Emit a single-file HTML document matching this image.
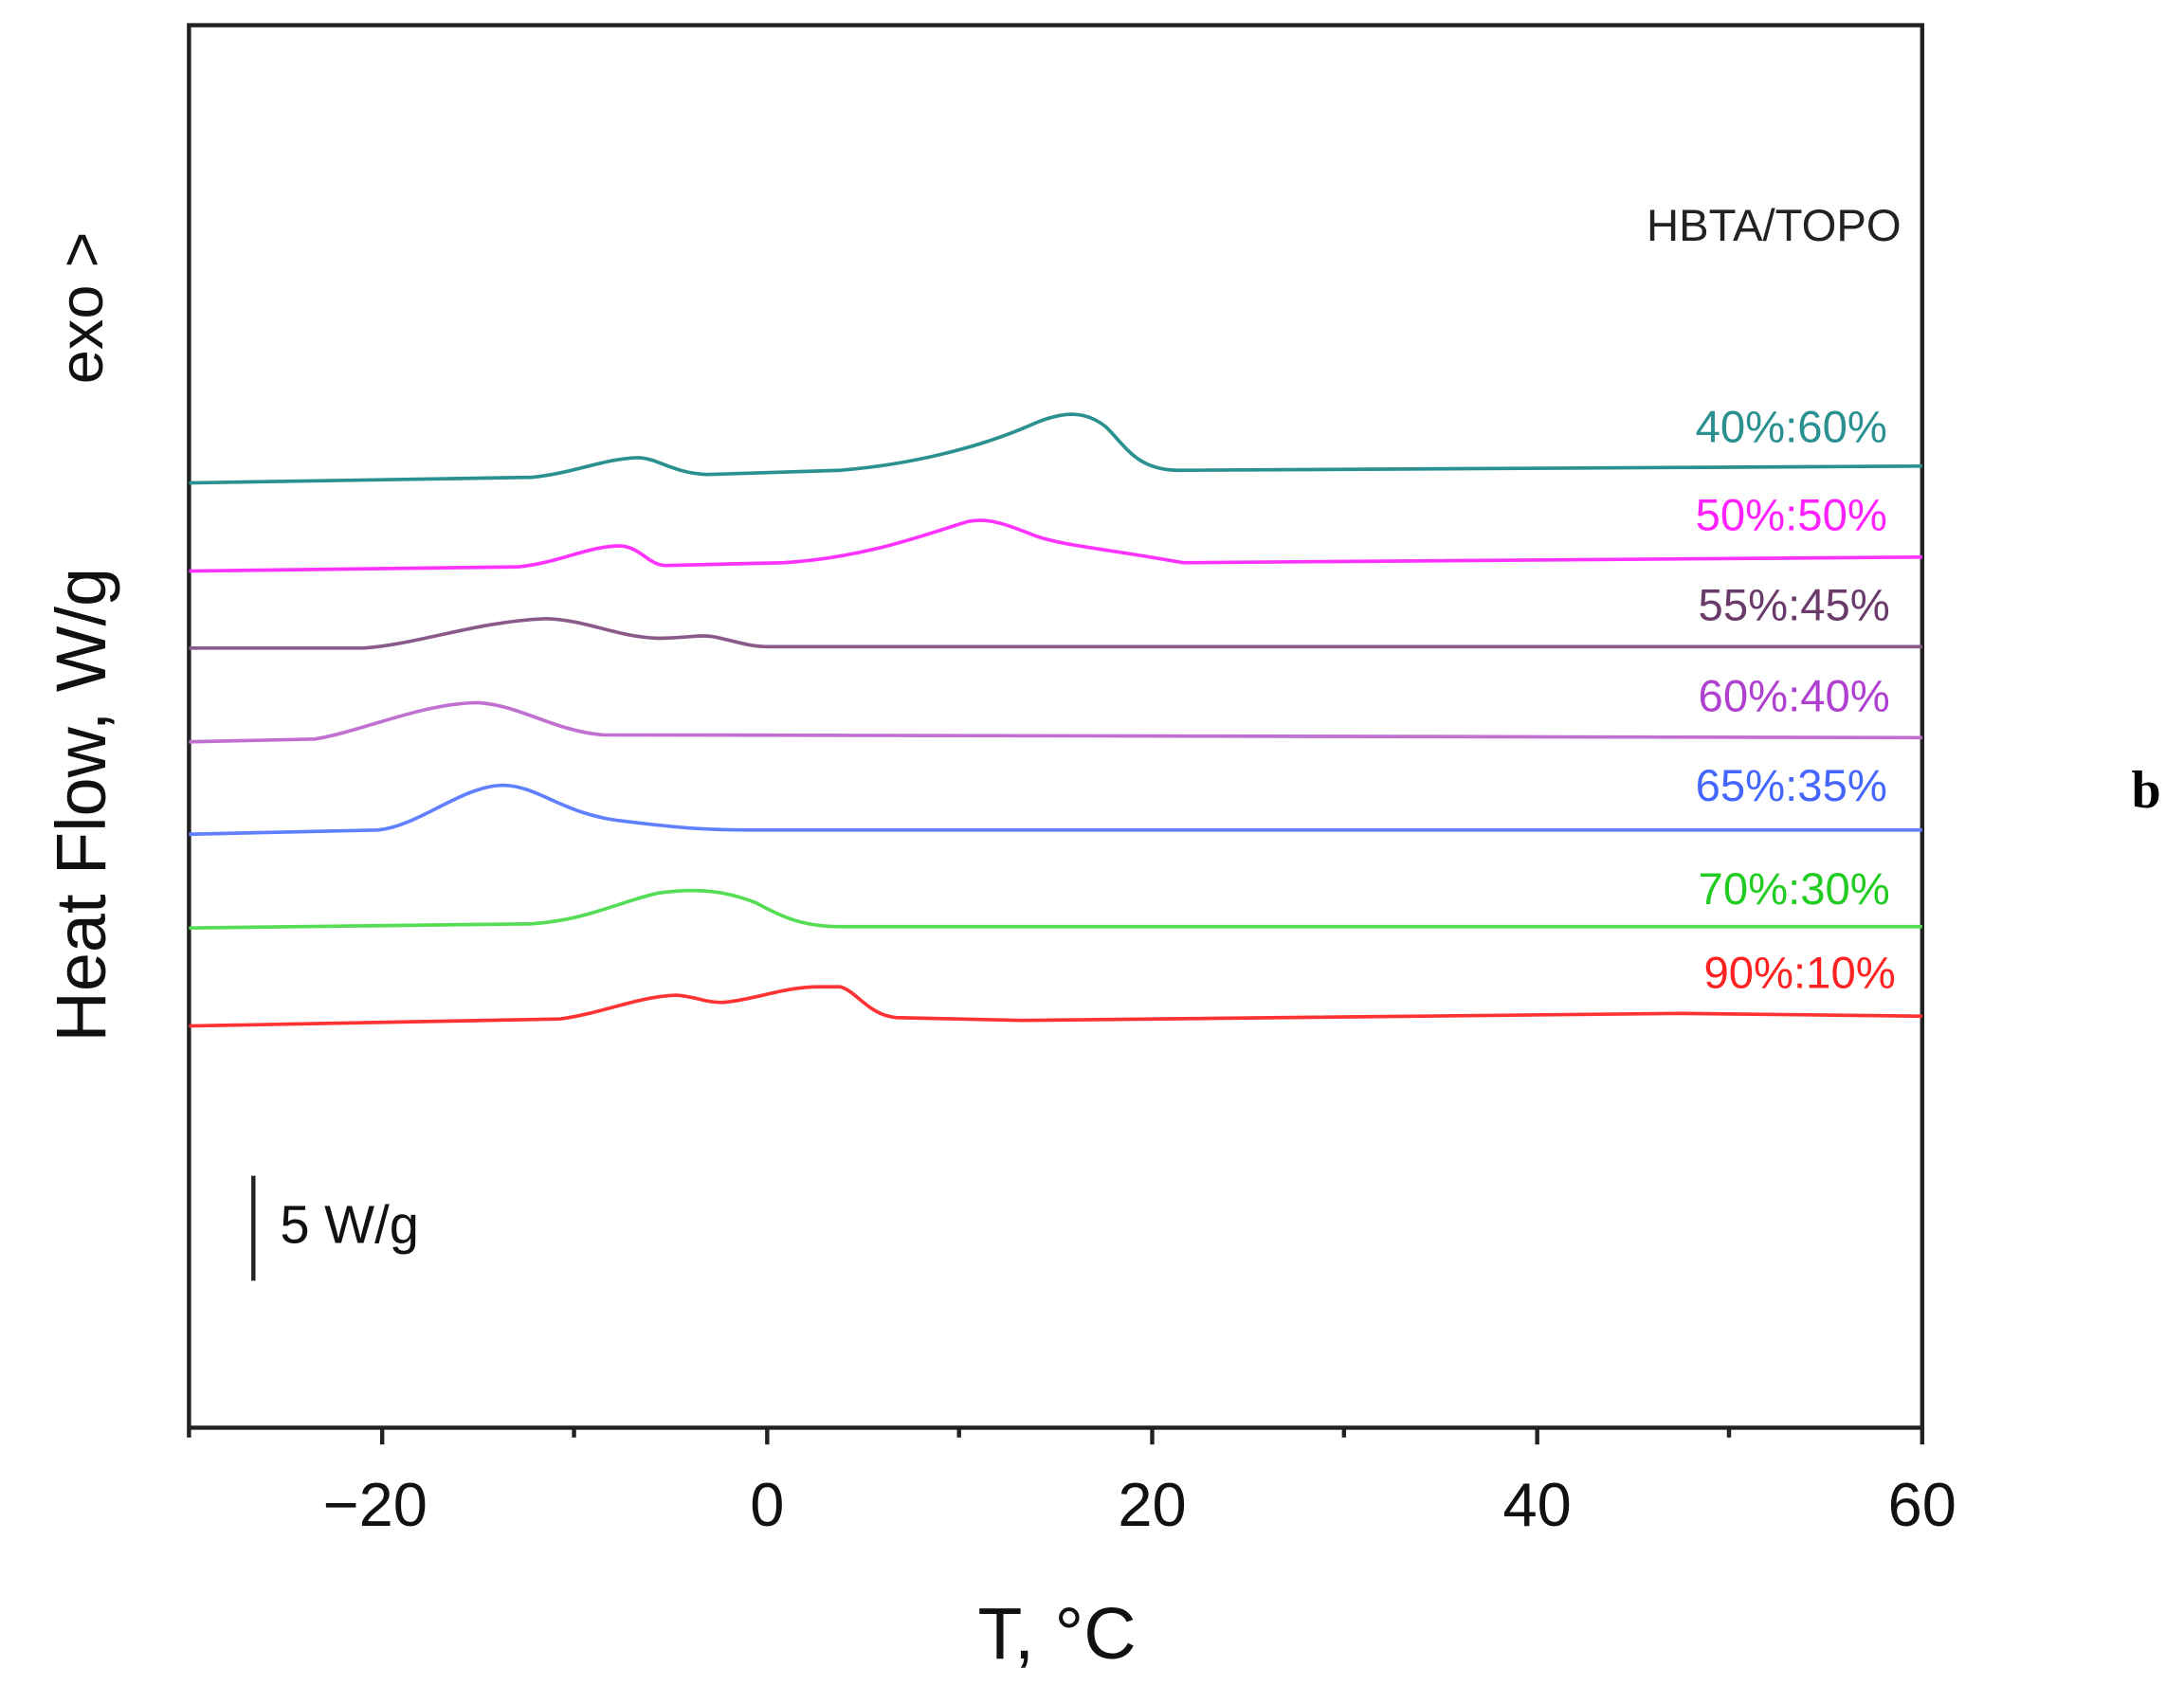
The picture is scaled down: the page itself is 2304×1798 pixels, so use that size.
<!DOCTYPE html>
<html><head><style>html,body{margin:0;padding:0;background:#fff}svg{display:block}</style></head>
<body>
<svg width="2304" height="1798" viewBox="0 0 1560 1217.4" preserveAspectRatio="none" xmlns="http://www.w3.org/2000/svg" font-family="Liberation Sans, sans-serif">
<rect x="135" y="18" width="1238" height="1002" fill="none" stroke="#222" stroke-width="3"/>
<g stroke="#222" stroke-width="3">
<line x1="273" y1="1020" x2="273" y2="1032"/><line x1="548" y1="1020" x2="548" y2="1032"/><line x1="823" y1="1020" x2="823" y2="1032"/><line x1="1098" y1="1020" x2="1098" y2="1032"/><line x1="1373" y1="1020" x2="1373" y2="1032"/>
<line x1="410" y1="1020" x2="410" y2="1027"/><line x1="685" y1="1020" x2="685" y2="1027"/><line x1="960" y1="1020" x2="960" y2="1027"/><line x1="1235" y1="1020" x2="1235" y2="1027"/><line x1="135" y1="1020" x2="135" y2="1027"/>
</g>
<g font-size="44" fill="#111" text-anchor="middle">
<text x="268" y="1090">−20</text><text x="548" y="1090">0</text><text x="823" y="1090">20</text><text x="1098" y="1090">40</text><text x="1373" y="1090">60</text>
</g>
<text x="755" y="1185" font-size="52" text-anchor="middle" fill="#111">T, °C</text>
<text transform="translate(75,575) rotate(-90)" font-size="50" text-anchor="middle" fill="#111">Heat Flow, W/g</text>
<text transform="translate(73,220) rotate(-90)" font-size="44" text-anchor="middle" fill="#111">exo &gt;</text>
<text x="1533" y="577" font-family="Liberation Serif, serif" font-weight="bold" font-size="38" text-anchor="middle">b</text>
<line x1="181" y1="840" x2="181" y2="915" stroke="#222" stroke-width="3"/>
<text x="200" y="888" font-size="38" fill="#111">5 W/g</text>
<g font-size="32" text-anchor="end">
<text x="1358" y="172" fill="#222">HBTA/TOPO</text>
<text x="1348" y="316" fill="#2a9090">40%:60%</text>
<text x="1348" y="379" fill="#ff22ff">50%:50%</text>
<text x="1350" y="443" fill="#6a3a6a">55%:45%</text>
<text x="1350" y="508" fill="#b040d0">60%:40%</text>
<text x="1348" y="572" fill="#4466ff">65%:35%</text>
<text x="1350" y="646" fill="#22cc22">70%:30%</text>
<text x="1354" y="706" fill="#ff2222">90%:10%</text>
</g>
<g fill="none" stroke-width="2.5">
<path stroke="#2a9090" d="M135,345 L380,341 C410,338 430,328 455,327 C470,327 480,338 505,339 L600,336 C650,332 700,320 740,302 C760,294 775,293 790,305 C805,320 812,335 840,336 L1373,333"/>
<path stroke="#ff33ff" d="M135,408 L370,405 C400,402 420,390 443,390 C458,391 462,403 475,404 L560,402 C620,398 660,382 690,373 C705,369 720,375 740,383 C760,390 790,392 845,402 L1373,398"/>
<path stroke="#8a5a8a" d="M135,463 L260,463 C300,460 340,444 390,442 C420,443 440,455 470,456 C490,456 500,453 510,455 C525,458 535,462 548,462 L1373,462"/>
<path stroke="#c070d0" d="M135,530 L225,528 C260,522 300,503 340,502 C370,503 395,522 430,525 L1373,527"/>
<path stroke="#6080ff" d="M135,596 L270,593 C300,590 330,561 360,561 C385,562 400,580 440,586 C480,591 500,593 540,593 L1373,593"/>
<path stroke="#55dd55" d="M135,663 L380,660 C420,657 440,645 470,638 C500,634 520,637 540,645 C560,656 575,662 600,662 L1373,662"/>
<path stroke="#ff3333" d="M135,733 L400,728 C430,724 455,712 483,711 C498,712 505,717 518,716 C540,714 560,705 585,705 L600,705 C612,708 620,725 640,727 L730,729 L1200,724 L1373,726"/>
</g>
</svg>
</body></html>
